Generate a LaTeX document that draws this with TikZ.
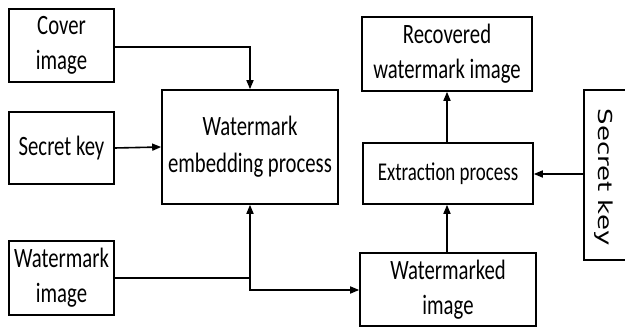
\documentclass[tikz,border=0pt]{standalone}
\usepackage{fontspec}
\usetikzlibrary{arrows.meta}
\newfontfamily\carl[FakeStretch=0.74]{Carlito}
\newfontfamily\djv{DejaVu Sans}
\begin{document}
\begin{tikzpicture}[x=1pt,y=-1pt,
  box/.style={draw=black,line width=1.6pt,fill=white,align=center,inner sep=0pt,
    font=\carl\fontsize{28}{35}\selectfont},
  conn/.style={line width=1.6pt},
  arr/.style={conn,-{Triangle[length=9pt,width=7pt]}}]
\useasboundingbox (0,0) rectangle (625,328);
\node[box,minimum width=105pt,minimum height=73pt] (cover) at (61.5,45.5) {Cover\\image};
\node[box,minimum width=105pt,minimum height=72pt] (skey) at (61.5,148) {Secret key};
\node[box,minimum width=105pt,minimum height=74pt] (wimg) at (61.5,278) {Watermark\\image};
\node[box,minimum width=176pt,minimum height=114pt,font=\carl\fontsize{28}{37}\selectfont] (embed) at (250,147) {Watermark\\embedding process};
\node[box,minimum width=170pt,minimum height=74pt] (recov) at (447,54) {Recovered\\watermark image};
\node[box,minimum width=170pt,minimum height=61pt,font=\carl\fontsize{25.6}{30}\selectfont] (extr) at (448,173.5) {Extraction process};
\node[box,minimum width=176pt,minimum height=73pt] (wmked) at (448,289.5) {Watermarked\\image};
\begin{scope}
\clip (0,0) rectangle (625,328);
\node[box,minimum width=60pt,minimum height=170pt,anchor=west] (skey2) at (583,175) {};
\end{scope}
\node (skeytxt) at (603.5,177) {\rotatebox{-90}{\scalebox{1}[0.74]{\djv\fontsize{26}{30}\selectfont Secret key}}};
\coordinate (j1) at (250,47);
\coordinate (j2) at (250,278);
\coordinate (j3) at (250,290);
\draw[arr] (cover.east |- j1) -- (j1) -- (embed.north);
\draw[arr] (skey.east) -- (embed.west);
\draw[arr] (wimg.east |- j2) -- (j2) -- (embed.south);
\draw[arr] (j2) -- (j3) -- (wmked.west |- j3);
\draw[arr] (extr.north -| 447,0) -- (recov.south -| 447,0);
\draw[arr] (wmked.north -| 447,0) -- (extr.south -| 447,0);
\draw[arr] (skey2.west |- 0,174) -- (extr.east |- 0,174);
\end{tikzpicture}
\end{document}
